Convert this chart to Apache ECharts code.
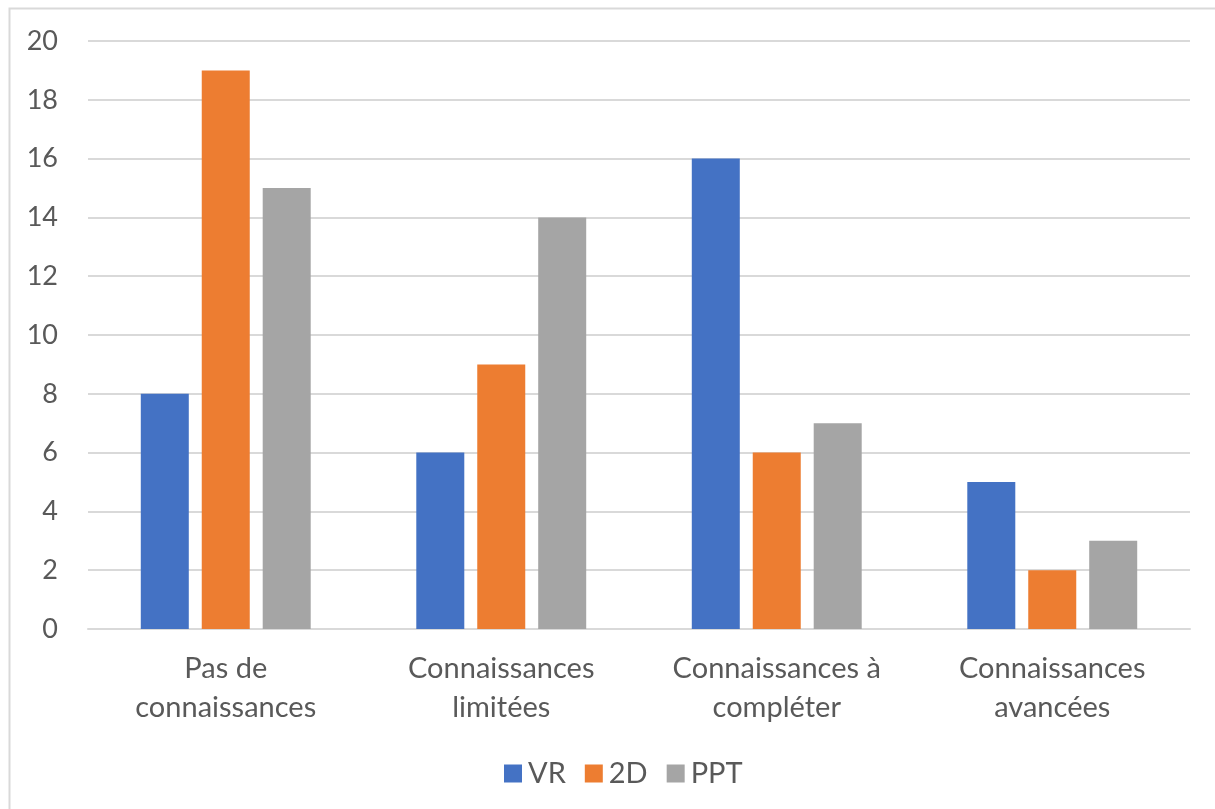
<!DOCTYPE html>
<html>
<head>
<meta charset="utf-8">
<script src="https://cdn.jsdelivr.net/npm/echarts@6/dist/echarts.min.js"></script>
<style>
  html, body { margin: 0; padding: 0; background: #ffffff; }
  #chart { width: 1215px; height: 809px; }
</style>
</head>
<body>
<div id="chart"></div>
<script>
// Knowledge levels by presentation mode
const categories = [
  'Pas de\nconnaissances',
  'Connaissances\nlimitées',
  'Connaissances à\ncompléter',
  'Connaissances\navancées'
];
const seriesNames = ['VR', '2D', 'PPT'];
const vrValues = [8, 6, 16, 5];
const d2Values = [19, 9, 6, 2];
const pptValues = [15, 14, 7, 3];
const yTicks = { min: 0, max: 20, interval: 2 };

const colors = ['#4472C4', '#ED7D31', '#A5A5A5'];
const font = 'Lato, "Open Sans", sans-serif';
const textColor = '#595959';

const chart = echarts.init(document.getElementById('chart'), null, { renderer: 'canvas' });

const valueSets = [vrValues, d2Values, pptValues];

chart.setOption({
  animation: false,
  backgroundColor: '#ffffff',
  graphic: [{
    type: 'rect',
    shape: { x: 9.5, y: 8.5, width: 1220, height: 820 },
    style: { fill: 'none', stroke: '#d9d9d9', lineWidth: 2 },
    silent: true
  }],
  grid: { left: 88, right: 25, top: 41, bottom: 180 },
  legend: {
    left: 499,
    top: 754,
    itemWidth: 18,
    itemHeight: 18,
    itemGap: 19,
    icon: 'rect',
    textStyle: { fontFamily: font, fontSize: 29, color: textColor, padding: [0, 0, 0, 1] },
    data: seriesNames
  },
  xAxis: {
    type: 'category',
    data: categories,
    axisLine: { lineStyle: { color: '#d9d9d9', width: 2 } },
    axisTick: { show: false },
    axisLabel: {
      fontFamily: font,
      fontSize: 29,
      color: textColor,
      lineHeight: 39,
      margin: 20,
      interval: 0
    }
  },
  yAxis: {
    type: 'value',
    min: yTicks.min,
    max: yTicks.max,
    interval: yTicks.interval,
    axisLine: { show: false },
    axisTick: { show: false },
    splitLine: { lineStyle: { color: '#d9d9d9', width: 2 } },
    axisLabel: {
      fontFamily: font,
      fontSize: 27,
      color: textColor,
      margin: 30
    }
  },
  series: seriesNames.map((name, i) => ({
    name: name,
    type: 'bar',
    data: valueSets[i],
    barWidth: 48,
    barGap: '27%',
    itemStyle: { color: colors[i] }
  }))
});
</script>
</body>
</html>
